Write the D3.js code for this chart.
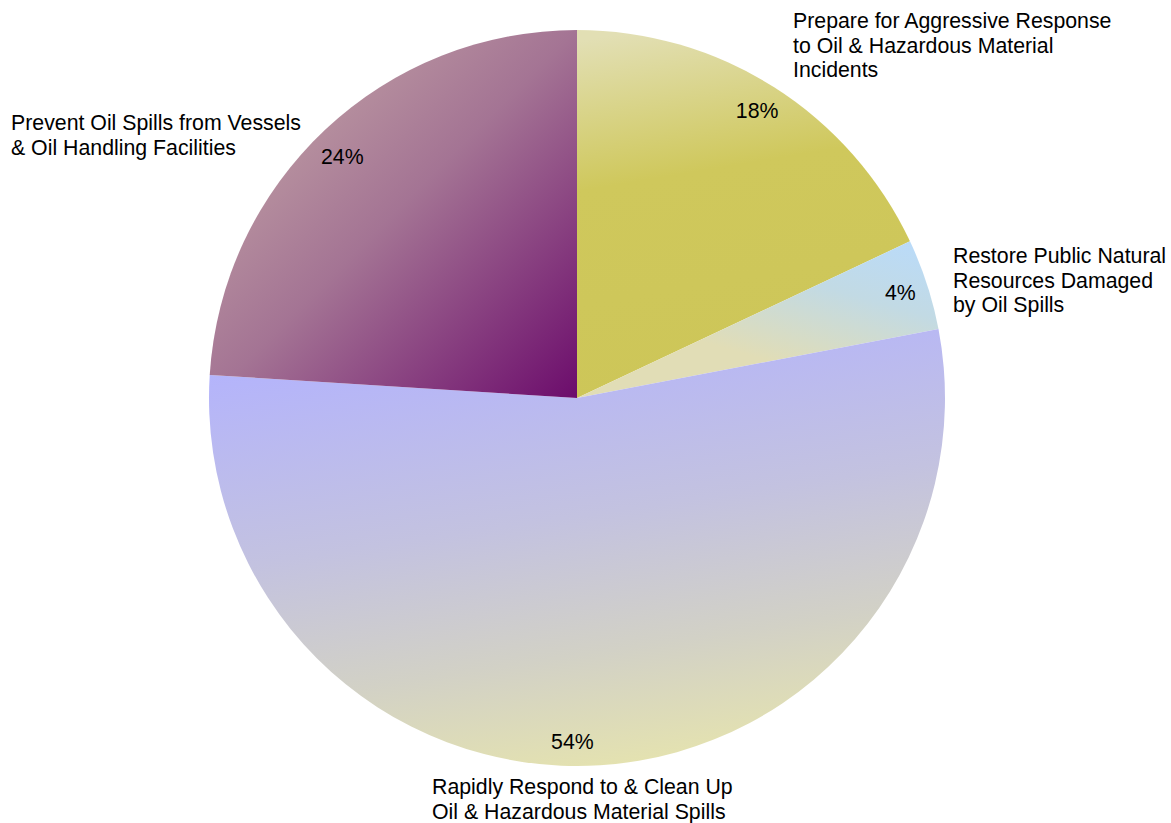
<!DOCTYPE html>
<html>
<head>
<meta charset="utf-8">
<script src="https://cdn.jsdelivr.net/npm/d3@7"></script>
<style>
  html, body { margin: 0; padding: 0; background: #ffffff; }
  svg { display: block; font-family: "Liberation Sans", Arial, sans-serif; }
</style>
</head>
<body>
<svg id="chart" width="1171" height="823"></svg>
<script>
// Program goals and their share of the budget (percent)
const categories = [
  "Prepare for Aggressive Response to Oil & Hazardous Material Incidents",
  "Restore Public Natural Resources Damaged by Oil Spills",
  "Rapidly Respond to & Clean Up Oil & Hazardous Material Spills",
  "Prevent Oil Spills from Vessels & Oil Handling Facilities"
];
const shares = [18, 4, 54, 24];
const percentLabels = ["18%", "4%", "54%", "24%"];
// Category labels broken into the lines they are set on
const labelLines = [
  ["Prepare for Aggressive Response", "to Oil & Hazardous Material", "Incidents"],
  ["Restore Public Natural", "Resources Damaged", "by Oil Spills"],
  ["Rapidly Respond to & Clean Up", "Oil & Hazardous Material Spills"],
  ["Prevent Oil Spills from Vessels", "& Oil Handling Facilities"]
];

// Layout
const cx = 577, cy = 398, radius = 368;
const fontSize = 21.3, lineGap = 24.5;
// first-line baseline anchor for each category label
const labelAnchor = [
  { x: 793, y: 28 },
  { x: 953, y: 263 },
  { x: 432, y: 794 },
  { x: 11,  y: 130 }
];
// small nudges for the percentage labels
const pctNudge = [[-2, 0], [0, 0], [-26, 4], [-2, 6]];

// Gradient fill for each slice (objectBoundingBox units)
const gradients = [
  { x1: 0.2, y1: 0, x2: 0.35, y2: 1, stops: [[0, "#e2dfb4"], [0.4, "#cfc85c"], [1, "#cdc658"]] },
  { x1: 1, y1: 0, x2: 0.35, y2: 1, stops: [[0, "#b9dbfb"], [0.35, "#c2dae4"], [0.75, "#e1ddb6"], [1, "#e1ddb6"]] },
  { x1: 0.3, y1: 0, x2: 0.55, y2: 1, stops: [[0, "#b3b3fd"], [0.45, "#c3c2e0"], [0.75, "#d2d1c6"], [1, "#e4e2b0"]] },
  { x1: 0, y1: 0, x2: 1, y2: 1, stops: [[0, "#cbb0aa"], [0.5, "#a47494"], [1, "#6c0c6c"]] }
];

const svg = d3.select("#chart");
const defs = svg.append("defs");

gradients.forEach((g, i) => {
  const lg = defs.append("linearGradient")
    .attr("id", "slice-grad-" + i)
    .attr("x1", g.x1).attr("y1", g.y1)
    .attr("x2", g.x2).attr("y2", g.y2);
  g.stops.forEach(s => lg.append("stop").attr("offset", s[0]).attr("stop-color", s[1]));
});

const pie = d3.pie().sort(null).value(d => d);
const arcs = pie(shares);
const arc = d3.arc().innerRadius(0).outerRadius(radius);
const pctArc = d3.arc().innerRadius(340).outerRadius(340);

const g = svg.append("g").attr("transform", `translate(${cx},${cy})`);

g.selectAll("path.slice")
  .data(arcs)
  .join("path")
  .attr("class", "slice")
  .attr("d", arc)
  .attr("fill", (d, i) => `url(#slice-grad-${i})`);

// Percentage labels just inside the rim
g.selectAll("text.pct")
  .data(arcs)
  .join("text")
  .attr("class", "pct")
  .attr("transform", (d, i) => {
    const c = pctArc.centroid(d);
    return `translate(${c[0] + pctNudge[i][0]},${c[1] + pctNudge[i][1]})`;
  })
  .attr("text-anchor", "middle")
  .attr("dy", "0.35em")
  .attr("font-size", fontSize)
  .attr("fill", "#000")
  .text((d, i) => percentLabels[i]);

// Category labels outside the pie
const labels = svg.selectAll("text.cat")
  .data(labelLines)
  .join("text")
  .attr("class", "cat")
  .attr("x", (d, i) => labelAnchor[i].x)
  .attr("y", (d, i) => labelAnchor[i].y)
  .attr("font-size", fontSize)
  .attr("fill", "#000");

labels.selectAll("tspan")
  .data((d, i) => d.map(t => ({ t, i })))
  .join("tspan")
  .attr("x", d => labelAnchor[d.i].x)
  .attr("dy", (d, j) => j === 0 ? 0 : lineGap)
  .text(d => d.t);
</script>
</body>
</html>
